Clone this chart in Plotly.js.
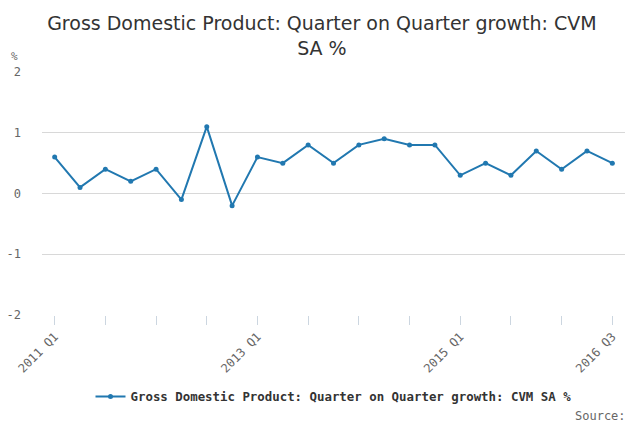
<!DOCTYPE html>
<html>
<head>
<meta charset="utf-8">
<script src="https://cdn.plot.ly/plotly-3.0.1.min.js"></script>
<style>
  body { margin: 0; background: #fff; }
  #chart { width: 640px; height: 426px; }
</style>
</head>
<body>
<div id="chart"></div>
<script>
// quarters 2011 Q1 .. 2016 Q3
var quarters = [
    '2011 Q1', '2011 Q2', '2011 Q3', '2011 Q4',
    '2012 Q1', '2012 Q2', '2012 Q3', '2012 Q4',
    '2013 Q1', '2013 Q2', '2013 Q3', '2013 Q4',
    '2014 Q1', '2014 Q2', '2014 Q3', '2014 Q4',
    '2015 Q1', '2015 Q2', '2015 Q3', '2015 Q4',
    '2016 Q1', '2016 Q2', '2016 Q3'
];
var growth = [0.6, 0.1, 0.4, 0.2, 0.4, -0.1, 1.1, -0.2,
              0.6, 0.5, 0.8, 0.5, 0.8, 0.9, 0.8, 0.8,
              0.3, 0.5, 0.3, 0.7, 0.4, 0.7, 0.5];

// tick marks every half year, labels only on a few
var tickQuarters = ['2011 Q1', '2011 Q3', '2012 Q1', '2012 Q3', '2013 Q1', '2013 Q3',
                    '2014 Q1', '2014 Q3', '2015 Q1', '2015 Q3', '2016 Q1', '2016 Q3'];
var labelled = ['2011 Q1', '2013 Q1', '2015 Q1', '2016 Q3'];

// y ticks (plain hyphen like the original, not a unicode minus)
var yTicks = [-2, -1, 0, 1, 2];
var yTickText = ['-2', '-1', '0', '1', '2'];

var seriesName = 'Gross Domestic Product: Quarter on Quarter growth: CVM SA %';

function gdp_chart() {
    var trace = {
        x: quarters,
        y: growth,
        name: seriesName,
        type: 'scatter',
        mode: 'lines+markers',
        line: {color: '#2178b0', width: 2},
        marker: {color: '#2178b0', size: 5}
    };

    var layout = {
        width: 640,
        height: 426,
        paper_bgcolor: '#fff',
        plot_bgcolor: '#fff',
        margin: {l: 42, r: 15, t: 72, b: 111},
        font: {family: 'DejaVu Sans Mono', color: '#666'},
        title: {
            text: 'Gross Domestic Product: Quarter on Quarter growth: CVM<br>SA %',
            font: {family: 'DejaVu Sans', size: 19, color: '#333'},
            x: 0.503,
            xanchor: 'center',
            yref: 'container',
            y: 0.93,
            yanchor: 'middle'
        },
        xaxis: {
            type: 'category',
            range: [-0.5, 22.5],
            tickmode: 'array',
            tickvals: tickQuarters,
            ticktext: tickQuarters.map(function (q) { return labelled.indexOf(q) >= 0 ? q : ''; }),
            tickangle: -45,
            ticks: 'outside',
            ticklen: 9,
            tickcolor: '#ccd6e0',
            showgrid: false,
            showline: false,
            zeroline: false,
            tickfont: {size: 12, color: '#666'}
        },
        yaxis: {
            range: [-2, 2],
            tickmode: 'array',
            tickvals: yTicks,
            ticktext: yTickText,
            gridcolor: '#d8d8d8',
            zeroline: false,
            showline: false,
            ticks: '',
            ticklabelstandoff: 20,
            tickfont: {size: 12, color: '#666'}
        },
        showlegend: true,
        legend: {
            orientation: 'h',
            x: 0.5,
            xanchor: 'center',
            yref: 'container',
            y: 0.068,
            yanchor: 'middle',
            font: {family: 'DejaVu Sans Mono', size: 12.4, color: '#333', weight: 'bold'}
        },
        annotations: [
            {
                text: '%', xref: 'paper', yref: 'paper',
                x: -0.048, y: 1.062, showarrow: false,
                xanchor: 'center', yanchor: 'middle',
                font: {size: 11, color: '#666'}
            },
            {
                text: 'Source:', xref: 'paper', yref: 'paper',
                x: 1.005, y: -0.415, showarrow: false,
                xanchor: 'right', yanchor: 'middle',
                font: {size: 12, color: '#666'}
            }
        ]
    };

    Plotly.newPlot('chart', [trace], layout, {displayModeBar: false, staticPlot: true});
}

gdp_chart();
</script>
</body>
</html>
